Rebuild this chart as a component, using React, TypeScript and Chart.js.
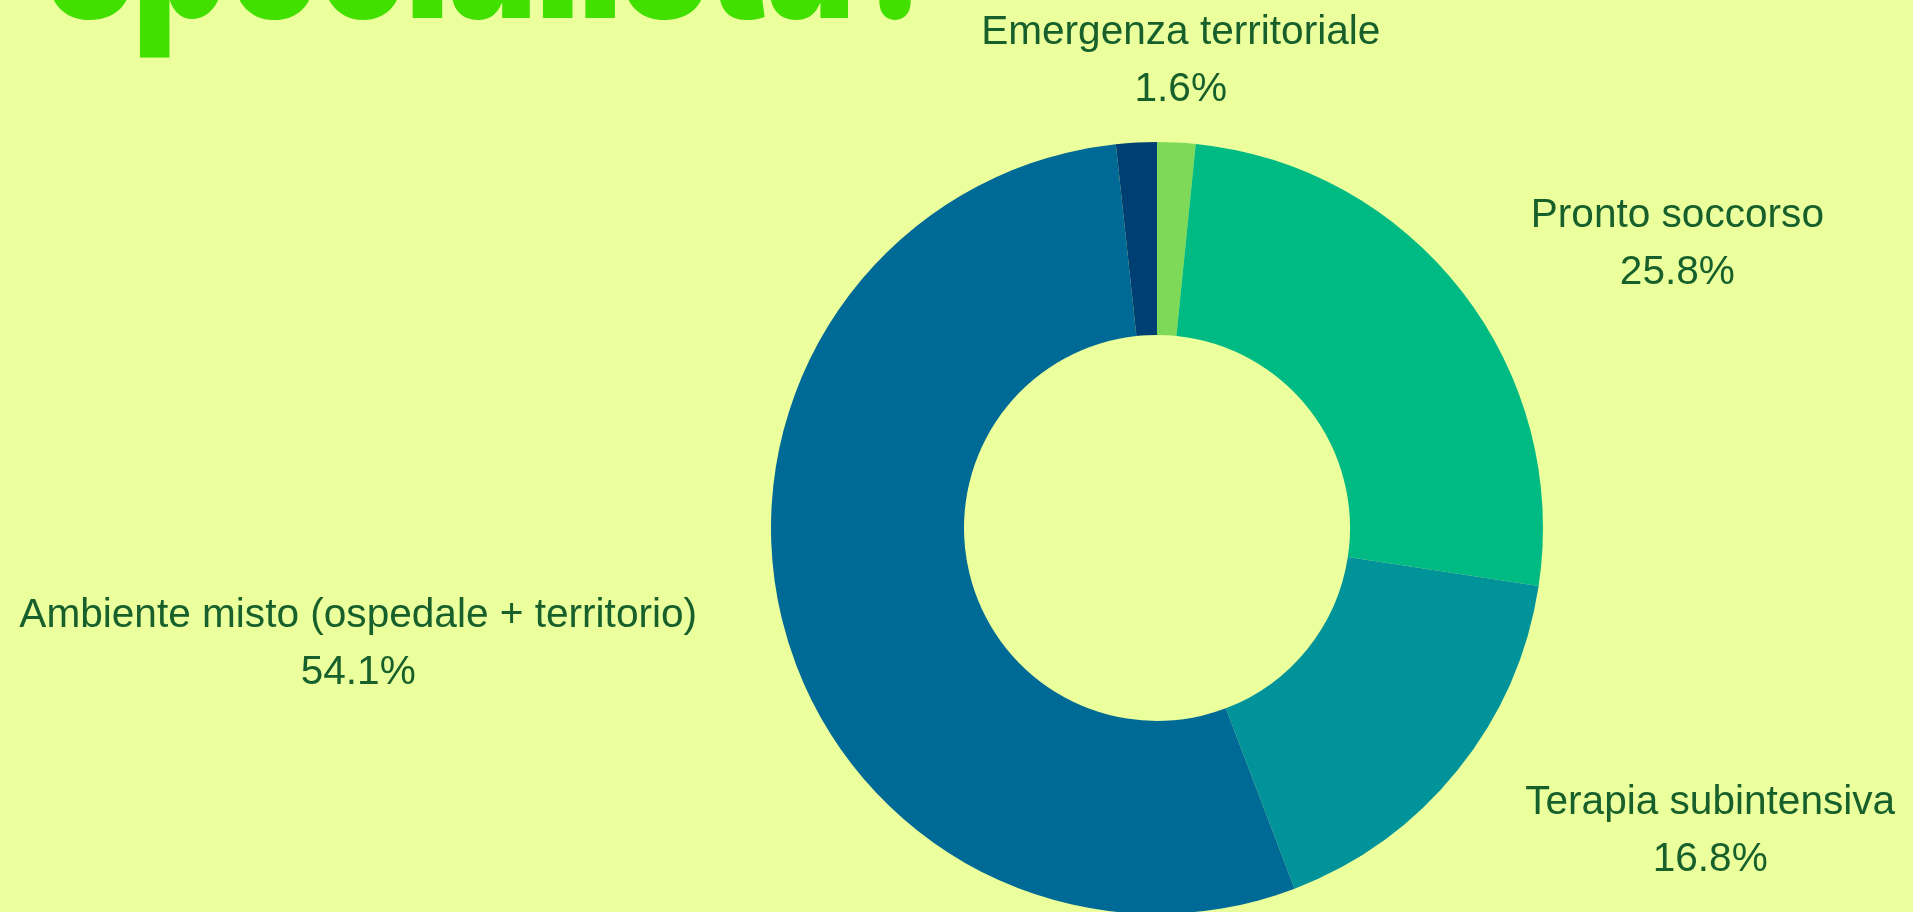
import React, { useEffect, useRef } from "react";
import { Chart, registerables } from "chart.js";

Chart.register(...registerables);

const categories = [
  "Emergenza territoriale",
  "Pronto soccorso",
  "Terapia subintensiva",
  "Ambiente misto (ospedale + territorio)",
  "Altro",
];
const percentages = [1.6, 25.8, 16.8, 54.1, 1.7];
const sliceColors = ["#7fd958", "#00ba83", "#00939a", "#006a96", "#003f73"];
const titleText = "specialista?";

const BG = "#ebff9c";
const TEXT = "#17602c";

const W = 1913;
const H = 912;
const CANVAS_H = 1000;

const labelPlugin = {
  id: "outerLabels",
  afterDraw(chart: any) {
    const ctx = chart.ctx;
    const meta = chart.getDatasetMeta(0);
    const fontSize = 40.6;
    const lineGap = 57;
    const offset = 87;
    ctx.save();
    ctx.font = `${fontSize}px "Liberation Sans", Arial, sans-serif`;
    ctx.fillStyle = TEXT;
    ctx.textBaseline = "middle";
    ctx.textAlign = "center";
    const boxes: any[] = [];
    meta.data.forEach((arc: any, i: number) => {
      const p = arc.getProps(["x", "y", "startAngle", "endAngle", "outerRadius"], true);
      const mid = (p.startAngle + p.endAngle) / 2;
      const vx = Math.cos(mid);
      const vy = Math.sin(mid);
      const r = p.outerRadius + offset;
      const px = p.x + r * vx;
      const py = p.y + r * vy + 6;
      const lines = [String(chart.data.labels[i]), percentages[i].toFixed(1) + "%"];
      const w = Math.max(...lines.map((l) => ctx.measureText(l).width));
      const h = lineGap + fontSize;
      let cx = px;
      if (vx > 0.3) cx = px + w / 2;
      else if (vx < -0.3) cx = px - w / 2;
      const box = { l: cx - w / 2, r: cx + w / 2, t: py - h / 2, b: py + h / 2 };
      const clash = boxes.some(
        (o) => !(box.r < o.l || box.l > o.r || box.b < o.t || box.t > o.b)
      );
      if (clash) return;
      boxes.push(box);
      ctx.fillText(lines[0], cx, py - lineGap / 2);
      ctx.fillText(lines[1], cx, py + lineGap / 2);
    });
    ctx.restore();
  },
};

const titlePlugin = {
  id: "bigTitle",
  afterDraw(chart: any) {
    const ctx = chart.ctx;
    ctx.save();
    ctx.font = `900 150px Inter, "Noto Sans", sans-serif`;
    (ctx as any).letterSpacing = "-1.8px";
    ctx.fillStyle = "#42e000";
    ctx.textAlign = "left";
    ctx.textBaseline = "alphabetic";
    ctx.translate(0, 18);
    ctx.scale(1, 1.3);
    ctx.fillText(titleText, 46, 0);
    ctx.restore();
  },
};

export default function App() {
  const ref = useRef<HTMLCanvasElement>(null);

  useEffect(() => {
    document.body.style.margin = "0";
    document.body.style.background = BG;
    const canvas = ref.current!;
    const chart = new Chart(canvas, {
      type: "doughnut",
      data: {
        labels: categories,
        datasets: [
          {
            data: percentages,
            backgroundColor: sliceColors,
            borderWidth: 0,
          },
        ],
      },
      options: {
        responsive: false,
        animation: false,
        cutout: "50%",
        layout: { padding: { left: 771, right: 370, top: 142, bottom: 86 } },
        plugins: {
          legend: { display: false },
          tooltip: { enabled: false },
        },
      },
      plugins: [labelPlugin, titlePlugin],
    });
    return () => chart.destroy();
  }, []);

  return (
    <div
      style={{
        position: "relative",
        width: W,
        height: H,
        overflow: "hidden",
        background: BG,
      }}
    >
      <canvas ref={ref} width={W} height={CANVAS_H} style={{ display: "block" }} />
    </div>
  );
}
